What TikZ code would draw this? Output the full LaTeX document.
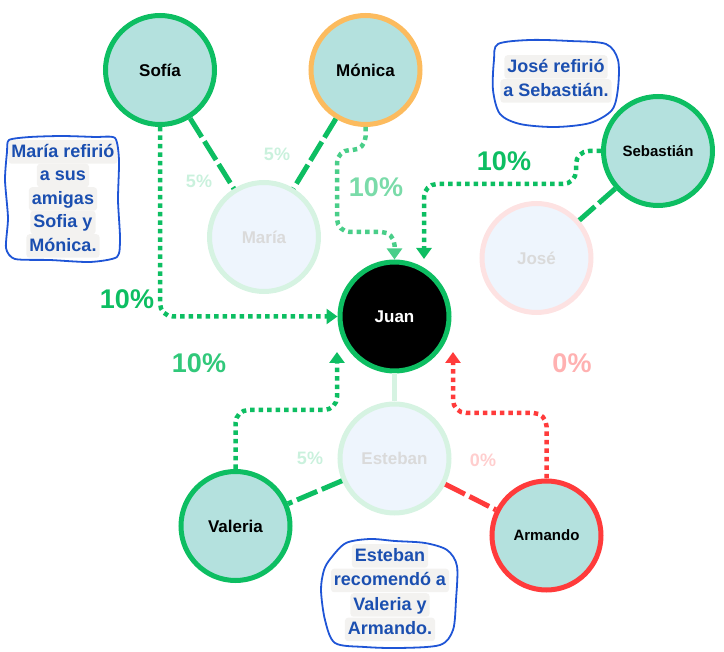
\documentclass[tikz,border=0pt]{standalone}
\usepackage{fontspec}
\setmainfont{Liberation Sans}
\usetikzlibrary{arrows.meta}

\definecolor{grn}{HTML}{0DBE62}
\definecolor{grnfade}{HTML}{D6F3E2}
\definecolor{org}{HTML}{FCBB5E}
\definecolor{rd}{HTML}{FF3B3B}
\definecolor{rdfade}{HTML}{FDE2E2}
\definecolor{tealfill}{HTML}{B4E1DE}
\definecolor{pale}{HTML}{EEF5FD}
\definecolor{ghost}{HTML}{DADADA}
\definecolor{notetext}{HTML}{1B4FB0}
\definecolor{ink}{HTML}{1F55D6}
\definecolor{notebg}{HTML}{F3F2F0}

\tikzset{
  person/.style={circle, draw=grn, line width=5pt, fill=tealfill, minimum size=109pt,
    inner sep=0pt, font=\bfseries\fontsize{17}{19}\selectfont, text=black},
  small/.style={font=\bfseries\fontsize{15}{17}\selectfont},
  faded/.style={person, fill=pale, text=ghost},
  link/.style={line width=5pt, dash pattern=on 22pt off 5pt},
  dotarrow/.style={line width=4.5pt, dash pattern=on 4.5pt off 4pt, rounded corners=13pt,
    -{Triangle[width=15pt,length=11pt]}},
  bigpct/.style={font=\bfseries\fontsize{27}{29}\selectfont},
  smallpct/.style={font=\bfseries\fontsize{18}{20}\selectfont},
  noteline/.style={fill=notebg, rounded corners=3pt, inner xsep=3pt, inner ysep=2pt,
    text height=15pt, text depth=4.5pt, text=notetext, font=\bfseries\fontsize{18}{20}\selectfont},
  wobble/.style={draw=ink, line width=1.8pt, line join=round}
}

\begin{document}
\begin{tikzpicture}[x=1pt, y=-1pt]
\useasboundingbox (0,0) rectangle (724,652);

% people
\node[person] (sofia) at (160,70) {Sofía};
\node[person, draw=org] (monica) at (365.5,70) {Mónica};
\node[faded, draw=grnfade] (maria) at (264,237) {María};
\node[person, fill=black, text=white] (juan) at (394.5,316.5) {Juan};
\node[person, small] (sebastian) at (658,151) {Sebastián};
\node[faded, draw=rdfade] (jose) at (536.5,258) {José};
\node[faded, draw=grnfade] (esteban) at (394.5,458.5) {Esteban};
\node[person] (valeria) at (235.5,526) {Valeria};
\node[person, small, draw=rd] (armando) at (546.5,535.5) {Armando};

% direct referral links
\draw[link, grn] (sofia) -- (maria);
\draw[link, grn] (monica) -- (maria);
\draw[link, grn] (sebastian) -- (jose);
\draw[link, grn] (esteban) -- (valeria);
\draw[link, rd] (esteban) -- (armando);
\draw[line width=5pt, grnfade] (juan) -- (esteban);

% bonus paths into Juan
\coordinate (tipS) at (424,259);
\coordinate (tipV) at (337,352);
\coordinate (tipA) at (453,352);
\draw[dotarrow, grn] (sofia.south) |- (juan.west);
\draw[dotarrow, grn!75] (monica.south) -- (365.5,150) -- (337,150) -- (337,232)
  -- (juan.north |- 0,232) -- (juan.north);
\draw[dotarrow, grn] (sebastian.west) -- (576,151) -- (576,184) -- (424,184) -- (tipS);
\draw[dotarrow, grn] (valeria.north) -- (235.5,410) -- (337,410) -- (tipV);
\draw[dotarrow, rd] (armando.north) -- (546.5,413) -- (453,413) -- (tipA);

% percentages
\node[bigpct, text=grn] (p1) at (504,161) {10\%};
\node[bigpct, text=grn!55] (p2) at (376,187) {10\%};
\node[bigpct, text=grn] (p3) at (127,299) {10\%};
\node[bigpct, text=grn!85] (p4) at (199,363) {10\%};
\node[bigpct, text=rd!40] (p5) at (572,363) {0\%};
\node[smallpct, text=grn!22] (p6) at (199,181) {5\%};
\node[smallpct, text=grn!22] (p7) at (277,154) {5\%};
\node[smallpct, text=grn!22] (p8) at (310,458) {5\%};
\node[smallpct, text=rd!25] (p9) at (483,460) {0\%};

% note: María
\node[noteline] (ma1) at (63,152) {María refirió};
\node[noteline] (ma2) at (63,175.5) {a sus};
\node[noteline] (ma3) at (63,199) {amigas};
\node[noteline] (ma4) at (63,222.5) {Sofia y};
\node[noteline] (ma5) at (63,246) {Mónica.};
\draw[wobble] plot[smooth cycle, tension=0.4] coordinates {
  (9,140) (30,137) (62,136) (95,137) (115,138) (119,160) (118,200) (120,238)
  (117,257) (90,262) (50,260) (15,259) (6,248) (8,218) (5,180) (7,152)};

% note: José
\node[noteline] (jo1) at (556,67) {José refirió};
\node[noteline] (jo2) at (556,91) {a Sebastián.};
\draw[wobble] plot[smooth cycle, tension=0.5] coordinates {
  (498,44) (530,40) (570,41) (606,44) (618,60) (618,88) (612,110) (590,123)
  (555,127) (520,124) (500,114) (493,90) (494,60)};

% note: Esteban
\node[noteline] (es1) at (390,556) {Esteban};
\node[noteline] (es2) at (390,580.5) {recomendó a};
\node[noteline] (es3) at (390,605) {Valeria y};
\node[noteline] (es4) at (390,629.5) {Armando.};
\draw[wobble] plot[smooth cycle, tension=0.5] coordinates {
  (331,558) (346,543) (370,539) (395,541) (425,543) (447,550) (457,566)
  (456,600) (453,630) (440,645) (400,648) (365,647) (335,643) (325,620)
  (321,590) (324,570)};
\end{tikzpicture}
\end{document}
